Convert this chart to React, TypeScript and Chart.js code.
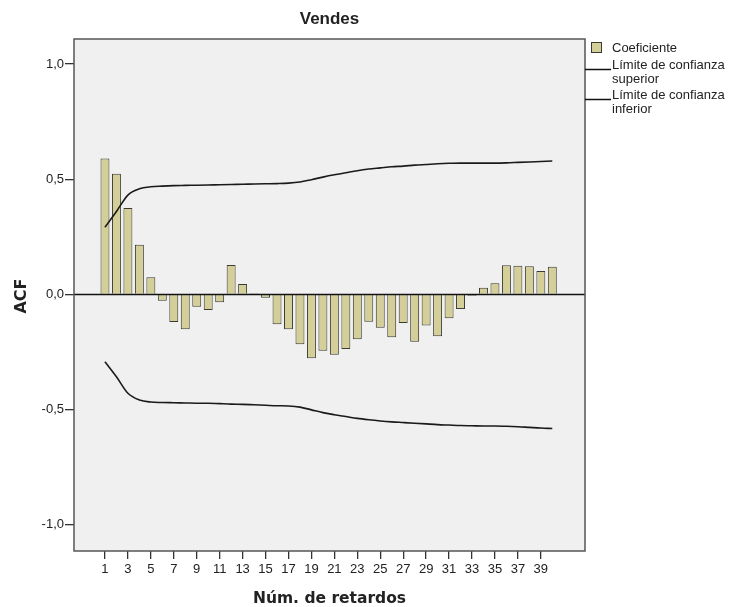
import React, { useEffect, useRef } from "react";
import { Chart, registerables } from "chart.js";

Chart.register(...registerables);

const title = "Vendes";
const xTitle = "Núm. de retardos";
const yTitle = "ACF";
const legendLabels = ["Coeficiente", "Límite de confianza", "superior", "Límite de confianza", "inferior"];

const lags = [
  1, 2, 3, 4, 5, 6, 7, 8, 9, 10, 11, 12, 13, 14, 15, 16, 17, 18, 19, 20,
  21, 22, 23, 24, 25, 26, 27, 28, 29, 30, 31, 32, 33, 34, 35, 36, 37, 38, 39, 40,
];

const acf = [
  0.59, 0.524, 0.375, 0.215, 0.074, -0.028, -0.12, -0.152, -0.054, -0.068,
  -0.035, 0.127, 0.045, 0.005, -0.015, -0.13, -0.152, -0.217, -0.278, -0.245,
  -0.262, -0.238, -0.195, -0.119, -0.145, -0.187, -0.125, -0.206, -0.135, -0.182,
  -0.104, -0.064, -0.006, 0.029, 0.048, 0.126, 0.124, 0.122, 0.101, 0.12,
];

const upper = [
  0.291, 0.36, 0.431, 0.458, 0.467, 0.47, 0.472, 0.473, 0.474, 0.475,
  0.476, 0.477, 0.478, 0.479, 0.48, 0.481, 0.483, 0.488, 0.498, 0.509,
  0.519, 0.528, 0.537, 0.544, 0.549, 0.554, 0.557, 0.561, 0.564, 0.567,
  0.569, 0.57, 0.57, 0.57, 0.57, 0.571, 0.573, 0.575, 0.577, 0.579,
];

const lower = [
  -0.293, -0.358, -0.43, -0.459, -0.468, -0.47, -0.471, -0.472, -0.473, -0.473,
  -0.475, -0.477, -0.478, -0.48, -0.482, -0.484, -0.485, -0.49, -0.502, -0.514,
  -0.523, -0.531, -0.539, -0.545, -0.55, -0.554, -0.557, -0.56, -0.563, -0.566,
  -0.568, -0.57, -0.571, -0.572, -0.572, -0.573, -0.575, -0.578, -0.581, -0.583,
];

const xTicks = [1, 3, 5, 7, 9, 11, 13, 15, 17, 19, 21, 23, 25, 27, 29, 31, 33, 35, 37, 39];
const yTicks = [-1.0, -0.5, 0.0, 0.5, 1.0];

const BAR_FILL = "#d4cf99";
const BAR_BORDER = "#3a3a30";
const TEXT = "#222222";

const decorPlugin = {
  id: "decor",
  beforeDraw(chart: any) {
    const { ctx, chartArea: a } = chart;
    ctx.save();
    ctx.fillStyle = "#ffffff";
    ctx.fillRect(0, 0, chart.width, chart.height);
    ctx.fillStyle = "#f0f0f0";
    ctx.fillRect(a.left, a.top, a.right - a.left, a.bottom - a.top);
    ctx.restore();
  },
  afterDatasetsDraw(chart: any) {
    const { ctx, chartArea: a, scales } = chart;
    const y0 = Math.round(scales.y.getPixelForValue(0)) + 0.5;
    ctx.save();
    ctx.strokeStyle = "#111";
    ctx.lineWidth = 1.3;
    ctx.beginPath();
    ctx.moveTo(a.left, y0);
    ctx.lineTo(a.right, y0);
    ctx.stroke();
    ctx.restore();
  },
  afterDraw(chart: any) {
    const { ctx, chartArea: a } = chart;
    ctx.save();
    // frame
    ctx.strokeStyle = "#555";
    ctx.lineWidth = 1.5;
    ctx.strokeRect(a.left, a.top, a.right - a.left, a.bottom - a.top);

    // title
    const cx = (a.left + a.right) / 2;
    ctx.fillStyle = TEXT;
    ctx.textAlign = "center";
    ctx.textBaseline = "middle";
    ctx.font = "bold 17px 'Liberation Sans', Arial, sans-serif";
    ctx.fillText(title, cx, 19);

    // x title
    ctx.font = "bold 15.5px 'DejaVu Sans', Verdana, sans-serif";
    ctx.fillText(xTitle, cx, 599);

    // y title
    ctx.save();
    ctx.translate(22, (a.top + a.bottom) / 2 + 1);
    ctx.rotate(-Math.PI / 2);
    ctx.font = "bold 16px 'DejaVu Sans', Verdana, sans-serif";
    ctx.fillText(yTitle, 0, 0);
    ctx.restore();

    // legend
    ctx.font = "13px 'Liberation Sans', Arial, sans-serif";
    ctx.textAlign = "left";
    ctx.fillStyle = BAR_FILL;
    ctx.fillRect(591, 42, 11, 11);
    ctx.strokeStyle = BAR_BORDER;
    ctx.lineWidth = 1;
    ctx.strokeRect(591.5, 42.5, 10, 10);
    ctx.fillStyle = TEXT;
    ctx.fillText(legendLabels[0], 612, 48);
    ctx.fillText(legendLabels[1], 612, 65);
    ctx.fillText(legendLabels[2], 612, 79);
    ctx.fillText(legendLabels[3], 612, 95);
    ctx.fillText(legendLabels[4], 612, 109);
    ctx.strokeStyle = "#111";
    ctx.lineWidth = 1.3;
    ctx.beginPath();
    ctx.moveTo(585, 69.5);
    ctx.lineTo(611, 69.5);
    ctx.moveTo(585, 99.5);
    ctx.lineTo(611, 99.5);
    ctx.stroke();
    ctx.restore();
  },
};

export default function App() {
  const canvasRef = useRef<HTMLCanvasElement | null>(null);

  useEffect(() => {
    const canvas = canvasRef.current;
    if (!canvas) return;
    const chart = new Chart(canvas, {
      type: "bar",
      data: {
        datasets: [
          {
            type: "bar",
            label: "Coeficiente",
            data: lags.map((l, i) => ({ x: l, y: acf[i] })),
            backgroundColor: BAR_FILL,
            borderColor: BAR_BORDER,
            borderWidth: 1,
            barPercentage: 0.78,
            categoryPercentage: 1,
            order: 2,
          } as any,
          {
            type: "line",
            label: "Límite de confianza superior",
            data: lags.map((l, i) => ({ x: l, y: upper[i] })),
            borderColor: "#1a1a1a",
            borderWidth: 1.6,
            pointRadius: 0,
            cubicInterpolationMode: "monotone",
            fill: false,
            order: 1,
          } as any,
          {
            type: "line",
            label: "Límite de confianza inferior",
            data: lags.map((l, i) => ({ x: l, y: lower[i] })),
            borderColor: "#1a1a1a",
            borderWidth: 1.6,
            pointRadius: 0,
            cubicInterpolationMode: "monotone",
            fill: false,
            order: 1,
          } as any,
        ],
      },
      options: {
        responsive: false,
        animation: false,
        devicePixelRatio: 1,
        layout: { padding: { top: 39, right: 145, bottom: 0, left: 0 } },
        plugins: {
          legend: { display: false },
          title: { display: false },
          tooltip: { enabled: false },
        },
        scales: {
          x: {
            type: "linear",
            min: -1.7,
            max: 42.85,
            offset: false,
            grid: {
              offset: false,
              drawOnChartArea: false,
              drawTicks: true,
              tickLength: 8,
              color: "#333",
              lineWidth: 1.3,
            },
            border: { display: false },
            ticks: {
              autoSkip: false,
              maxRotation: 0,
              padding: 3,
              color: TEXT,
              font: { family: "'Liberation Sans', Arial, sans-serif", size: 13 },
              callback: (v: any) => String(v),
            },
            afterBuildTicks: (scale: any) => {
              scale.ticks = xTicks.map((v) => ({ value: v }));
            },
            afterFit: (scale: any) => {
              scale.height = 56;
            },
          },
          y: {
            type: "linear",
            min: -1.115,
            max: 1.109,
            grid: {
              drawOnChartArea: false,
              drawTicks: true,
              tickLength: 9,
              color: "#333",
              lineWidth: 1.3,
            },
            border: { display: false },
            ticks: {
              padding: 1,
              color: TEXT,
              font: { family: "'Liberation Sans', Arial, sans-serif", size: 13 },
              callback: (v: any) => Number(v).toFixed(1).replace(".", ","),
            },
            afterBuildTicks: (scale: any) => {
              scale.ticks = yTicks.map((v) => ({ value: v }));
            },
            afterFit: (scale: any) => {
              scale.width = 74;
            },
          },
        },
      } as any,
      plugins: [decorPlugin],
    });
    return () => chart.destroy();
  }, []);

  return (
    <div style={{ position: "absolute", left: 0, top: 0, width: 730, height: 607, background: "#fff" }}>
      <canvas ref={canvasRef} width={730} height={607} style={{ display: "block", width: 730, height: 607 }} />
    </div>
  );
}
